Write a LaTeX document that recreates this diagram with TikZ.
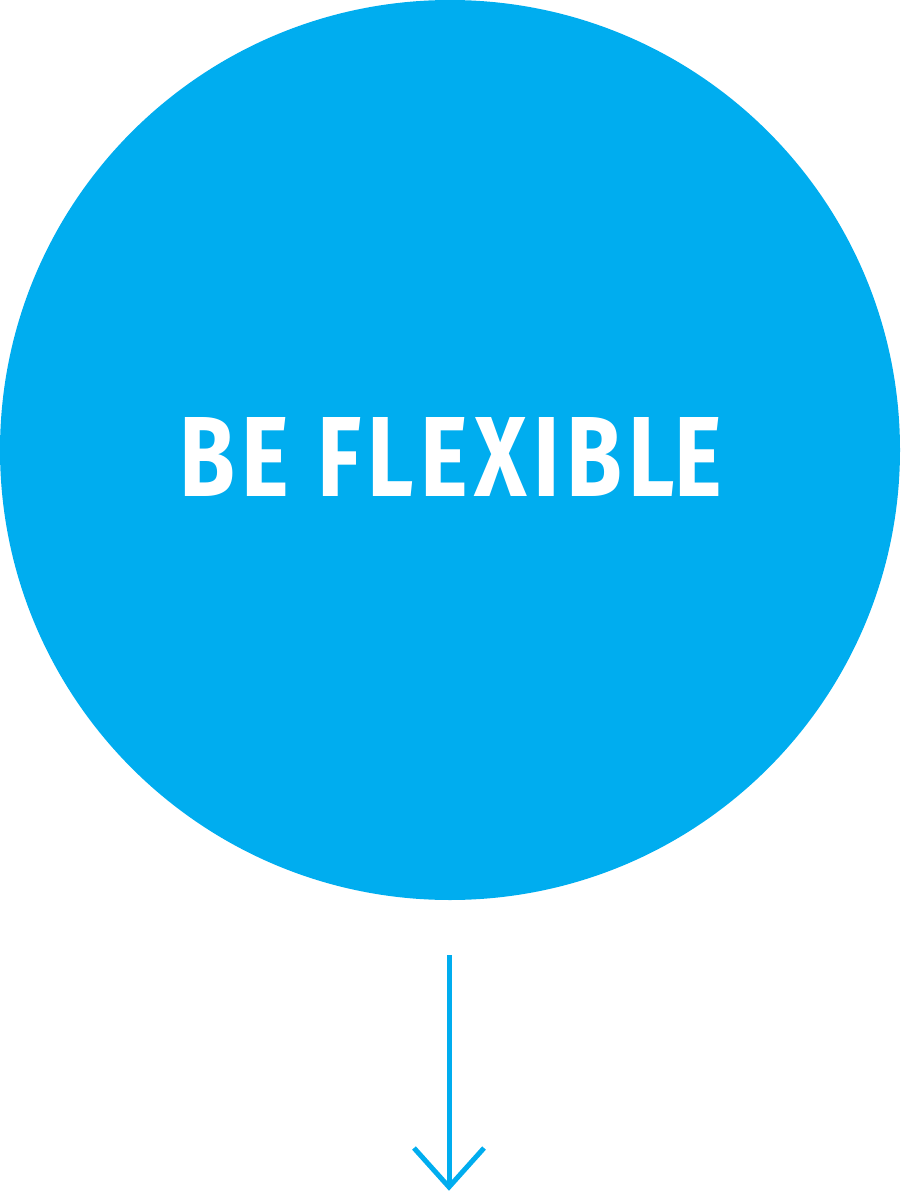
\documentclass[tikz,border=0pt]{standalone}
\usepackage{fontspec}
\setmainfont{Fira Sans}
\newfontfamily\titlefont[LetterSpace=7]{Fira Sans}
\definecolor{flexblue}{HTML}{00ADEF}
\tikzset{
  bigcircle/.style={circle, fill=flexblue, draw=none, minimum size=900pt, inner sep=0pt},
  title/.style={text=white, inner sep=0pt},
  flowline/.style={draw=flexblue, line width=5pt},
  headline/.style={draw=flexblue, line width=5pt, line cap=butt, line join=miter}
}
\begin{document}
\begin{tikzpicture}[x=1pt,y=-1pt]
\useasboundingbox (0,0) rectangle (900,1193);
\node[bigcircle] (c) at (450,450) {};
\node[title, anchor=south] (t) at (451,497) {\resizebox{542pt}{79pt}{\titlefont\bfseries BE FLEXIBL\hbox{E}}};
\coordinate (s) at (449,955);
\coordinate (e) at (449,1187);
\coordinate (l) at (414,1148);
\coordinate (r) at (484,1148);
\draw[flowline] (s) -- (e);
\draw[headline] (l) -- (e) -- (r);
\end{tikzpicture}
\end{document}
